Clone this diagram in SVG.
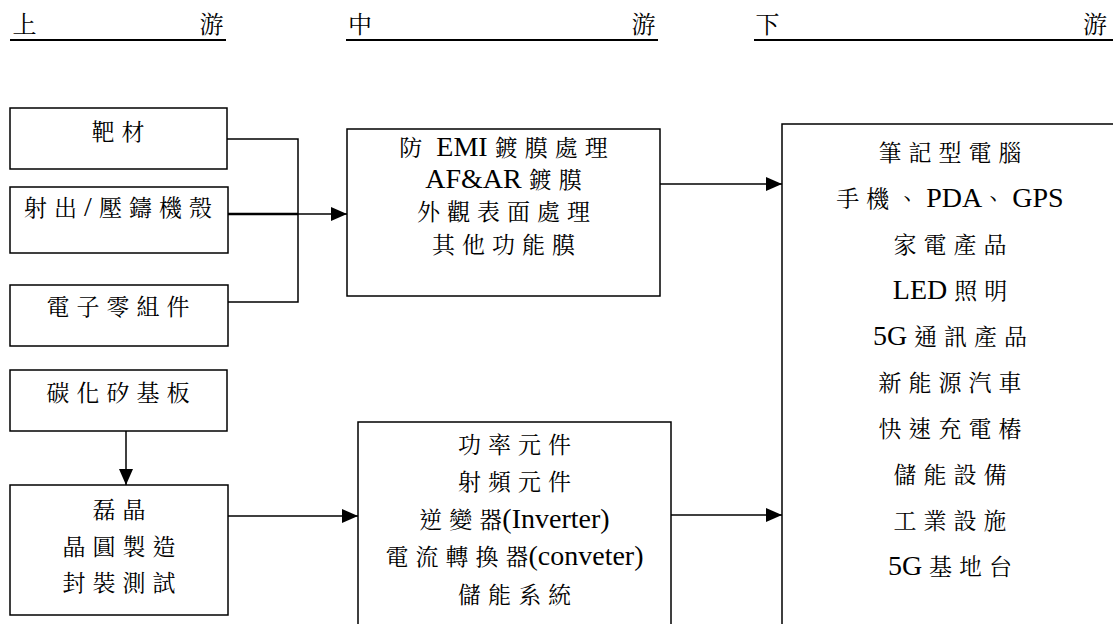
<svg xmlns="http://www.w3.org/2000/svg" width="1113" height="624" viewBox="0 0 1113 624" font-family="'Liberation Serif', 'Noto Serif CJK TC', 'Noto Sans CJK TC', serif">
<style>
.t { text-anchor: middle; font-size: 23px; letter-spacing: 7px; fill: #000; }
.e { letter-spacing: 0; }
.l { font-size: 28px; letter-spacing: 0; }
.h { font-size: 24px; fill: #000; }
.box { fill: #fff; stroke: #000; stroke-width: 1.5; }
.ul { stroke: #000; stroke-width: 1.8; }
.cn { fill: none; stroke: #000; stroke-width: 1.5; }
.thick { fill: none; stroke: #000; stroke-width: 2.5; }
</style>
<defs>
<marker id="arr" markerUnits="userSpaceOnUse" markerWidth="16" markerHeight="14" refX="16" refY="7" orient="auto">
<path d="M0,0 L16,7 L0,14 z" fill="#000"/>
</marker>
</defs>
<rect x="0" y="0" width="1113" height="624" fill="#fff"/>

<g id="header">
<text class="h" x="12.5" y="33">上</text>
<text class="h" x="199.5" y="33">游</text>
<line class="ul" x1="10" y1="40" x2="226" y2="40"/>
<text class="h" x="348" y="33">中</text>
<text class="h" x="631.5" y="33">游</text>
<line class="ul" x1="346" y1="40" x2="658" y2="40"/>
<text class="h" x="755.5" y="33">下</text>
<text class="h" x="1083" y="33">游</text>
<line class="ul" x1="754" y1="40" x2="1113" y2="40"/>
</g>

<g id="connectors">
<path class="cn" d="M227,139 H298 V302 H228"/>
<path class="thick" d="M228,214 H298"/>
<path class="cn" d="M297,214 H347" marker-end="url(#arr)"/>
<path class="cn" d="M660,184 H782" marker-end="url(#arr)"/>
<path class="cn" d="M126,431 V485" marker-end="url(#arr)"/>
<path class="cn" d="M228,516 H358" marker-end="url(#arr)"/>
<path class="cn" d="M671,515 H782" marker-end="url(#arr)"/>
</g>

<g id="node-target">
<rect class="box" x="10" y="108" width="217" height="61"/>
<text class="t" x="118" y="140">靶<tspan class="e">材</tspan></text>
</g>

<g id="node-housing">
<rect class="box" x="10" y="187" width="218" height="66"/>
<text class="t" x="118" y="216">射出<tspan class="l" style="letter-spacing:7px">/</tspan>壓鑄機<tspan class="e">殼</tspan></text>
</g>

<g id="node-electronic">
<rect class="box" x="10" y="285" width="218" height="61"/>
<text class="t" x="118" y="315">電子零組<tspan class="e">件</tspan></text>
</g>

<g id="node-coating">
<rect class="box" x="347" y="129" width="313" height="167"/>
<text class="t" x="503.5" y="156">防<tspan class="l">&#160;EMI&#160;</tspan>鍍膜處<tspan class="e">理</tspan></text>
<text class="t" x="503.5" y="188"><tspan class="l">AF&amp;AR&#160;</tspan>鍍<tspan class="e">膜</tspan></text>
<text class="t" x="503.5" y="220">外觀表面處<tspan class="e">理</tspan></text>
<text class="t" x="503.5" y="253">其他功能<tspan class="e">膜</tspan></text>
</g>

<g id="node-downstream">
<rect class="box" x="782" y="124" width="340" height="510"/>
<text class="t" x="950" y="161">筆記型電<tspan class="e">腦</tspan></text>
<text class="t" x="950" y="207">手機、<tspan class="l">PDA</tspan>、<tspan class="l">GPS</tspan></text>
<text class="t" x="950" y="253">家電產<tspan class="e">品</tspan></text>
<text class="t" x="950" y="299"><tspan class="l">LED&#160;</tspan>照<tspan class="e">明</tspan></text>
<text class="t" x="950" y="345"><tspan class="l">5G&#160;</tspan>通訊產<tspan class="e">品</tspan></text>
<text class="t" x="950" y="391">新能源汽<tspan class="e">車</tspan></text>
<text class="t" x="950" y="437">快速充電<tspan class="e">樁</tspan></text>
<text class="t" x="950" y="483">儲能設<tspan class="e">備</tspan></text>
<text class="t" x="950" y="529">工業設<tspan class="e">施</tspan></text>
<text class="t" x="950" y="575"><tspan class="l">5G&#160;</tspan>基地<tspan class="e">台</tspan></text>
</g>

<g id="node-sic">
<rect class="box" x="10" y="370" width="217" height="61"/>
<text class="t" x="118" y="401">碳化矽基<tspan class="e">板</tspan></text>
</g>

<g id="node-epi">
<rect class="box" x="10" y="485" width="218" height="130"/>
<text class="t" x="119" y="518">磊<tspan class="e">晶</tspan></text>
<text class="t" x="119" y="555">晶圓製<tspan class="e">造</tspan></text>
<text class="t" x="119" y="591">封裝測<tspan class="e">試</tspan></text>
</g>

<g id="node-devices">
<rect class="box" x="358" y="422" width="313" height="212"/>
<text class="t" x="514.5" y="453">功率元<tspan class="e">件</tspan></text>
<text class="t" x="514.5" y="490">射頻元<tspan class="e">件</tspan></text>
<text class="t" x="514.5" y="528">逆變<tspan class="e">器</tspan><tspan class="l">(Inverter)</tspan></text>
<text class="t" x="514.5" y="565">電流轉換<tspan class="e">器</tspan><tspan class="l">(conveter)</tspan></text>
<text class="t" x="514.5" y="603">儲能系<tspan class="e">統</tspan></text>
</g>
</svg>
